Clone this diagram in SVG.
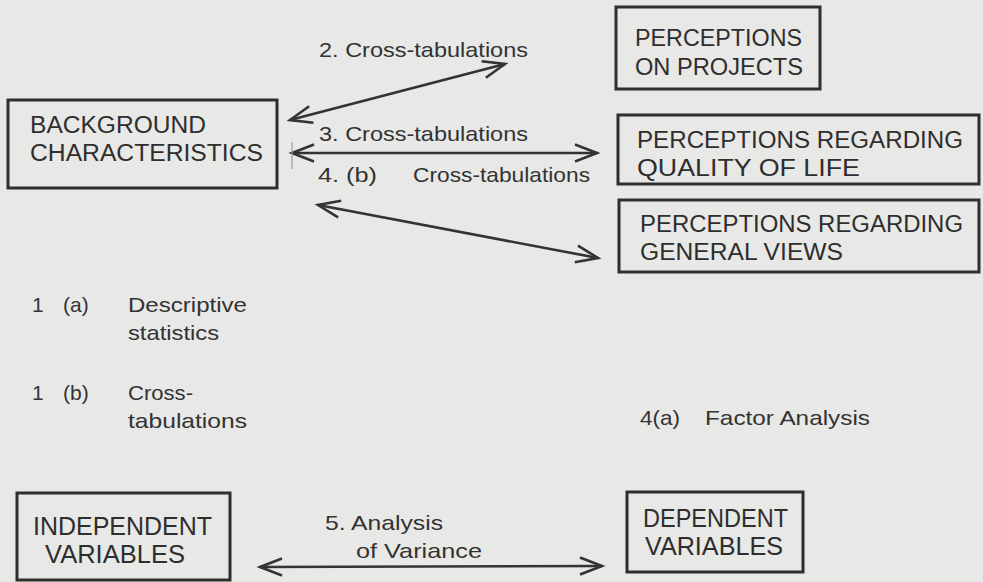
<svg xmlns="http://www.w3.org/2000/svg" width="983" height="582" viewBox="0 0 983 582">
<style>
.box{fill:none;stroke:#2e2e2e;stroke-width:3}
.bt{font-family:"Liberation Sans",Arial,sans-serif;font-size:23px;fill:#2e2e2e}
.bb{font-family:"Liberation Sans",Arial,sans-serif;font-size:25px;fill:#2e2e2e}
.lb{font-family:"Liberation Sans",Arial,sans-serif;font-size:21px;fill:#333}
.conn line{stroke:#333;stroke-width:2.6;fill:none}
</style>
<defs>
<marker id="ah" markerUnits="userSpaceOnUse" markerWidth="28" markerHeight="22" refX="24" refY="11" orient="auto-start-reverse">
<path d="M2,2.5 L24,11 L2,19.5" fill="none" stroke="#333" stroke-width="2.6" stroke-linejoin="miter"/>
</marker>
</defs>
<rect x="0" y="0" width="983" height="582" fill="#e8e8e6"/>

<g id="background">
<rect class="box" x="8" y="100" width="269" height="88"/>
<text class="bt" x="30" y="133" textLength="176" lengthAdjust="spacingAndGlyphs">BACKGROUND</text>
<text class="bt" x="30" y="161" textLength="233" lengthAdjust="spacingAndGlyphs">CHARACTERISTICS</text>
</g>

<g id="projects">
<rect class="box" x="616" y="7" width="204" height="82"/>
<text class="bt" x="635" y="46" textLength="167" lengthAdjust="spacingAndGlyphs">PERCEPTIONS</text>
<text class="bt" x="635" y="75" textLength="168" lengthAdjust="spacingAndGlyphs">ON PROJECTS</text>
</g>

<g id="quality">
<rect class="box" x="618" y="115" width="361" height="69"/>
<text class="bt" x="637" y="148" textLength="326" lengthAdjust="spacingAndGlyphs">PERCEPTIONS REGARDING</text>
<text class="bt" x="637" y="176" textLength="223" lengthAdjust="spacingAndGlyphs">QUALITY OF LIFE</text>
</g>

<g id="general">
<rect class="box" x="619" y="200" width="360" height="72"/>
<text class="bt" x="640" y="232" textLength="323" lengthAdjust="spacingAndGlyphs">PERCEPTIONS REGARDING</text>
<text class="bt" x="640" y="260" textLength="203" lengthAdjust="spacingAndGlyphs">GENERAL VIEWS</text>
</g>

<g id="independent">
<rect class="box" x="17" y="493" width="213" height="87"/>
<text class="bb" x="33" y="535" textLength="179" lengthAdjust="spacingAndGlyphs">INDEPENDENT</text>
<text class="bb" x="45" y="563" textLength="140" lengthAdjust="spacingAndGlyphs">VARIABLES</text>
</g>

<g id="dependent">
<rect class="box" x="627" y="492" width="176" height="80"/>
<text class="bb" x="643" y="527" textLength="145" lengthAdjust="spacingAndGlyphs">DEPENDENT</text>
<text class="bb" x="645" y="555" textLength="138" lengthAdjust="spacingAndGlyphs">VARIABLES</text>
</g>

<g id="connectors" class="conn">
<line x1="290" y1="120" x2="505" y2="64" marker-start="url(#ah)" marker-end="url(#ah)"/>
<line x1="292" y1="153" x2="597" y2="153" marker-start="url(#ah)" marker-end="url(#ah)"/>
<line x1="318" y1="205" x2="598" y2="258" marker-start="url(#ah)" marker-end="url(#ah)"/>
<line x1="260" y1="567" x2="602" y2="566" marker-start="url(#ah)" marker-end="url(#ah)"/>
<line x1="292" y1="142" x2="292" y2="169" style="stroke:#9a9a9a;stroke-width:1.2"/>
</g>

<g id="labels">
<text class="lb" x="319" y="57" textLength="209" lengthAdjust="spacingAndGlyphs">2.  Cross-tabulations</text>
<text class="lb" x="319" y="141" textLength="209" lengthAdjust="spacingAndGlyphs">3.  Cross-tabulations</text>
<text class="lb" x="318" y="182" textLength="59" lengthAdjust="spacingAndGlyphs">4.  (b)</text>
<text class="lb" x="413" y="182" textLength="177" lengthAdjust="spacingAndGlyphs">Cross-tabulations</text>
<text class="lb" x="32" y="312">1</text>
<text class="lb" x="63" y="312">(a)</text>
<text class="lb" x="128" y="312" textLength="119" lengthAdjust="spacingAndGlyphs">Descriptive</text>
<text class="lb" x="128" y="340" textLength="91" lengthAdjust="spacingAndGlyphs">statistics</text>
<text class="lb" x="32" y="400">1</text>
<text class="lb" x="63" y="400">(b)</text>
<text class="lb" x="128" y="400" textLength="65" lengthAdjust="spacingAndGlyphs">Cross-</text>
<text class="lb" x="128" y="428" textLength="119" lengthAdjust="spacingAndGlyphs">tabulations</text>
<text class="lb" x="640" y="425" textLength="40" lengthAdjust="spacingAndGlyphs">4(a)</text>
<text class="lb" x="705" y="425" textLength="165" lengthAdjust="spacingAndGlyphs">Factor  Analysis</text>
<text class="lb" x="325" y="530" textLength="118" lengthAdjust="spacingAndGlyphs">5. Analysis</text>
<text class="lb" x="356" y="558" textLength="126" lengthAdjust="spacingAndGlyphs">of Variance</text>
</g>
</svg>
